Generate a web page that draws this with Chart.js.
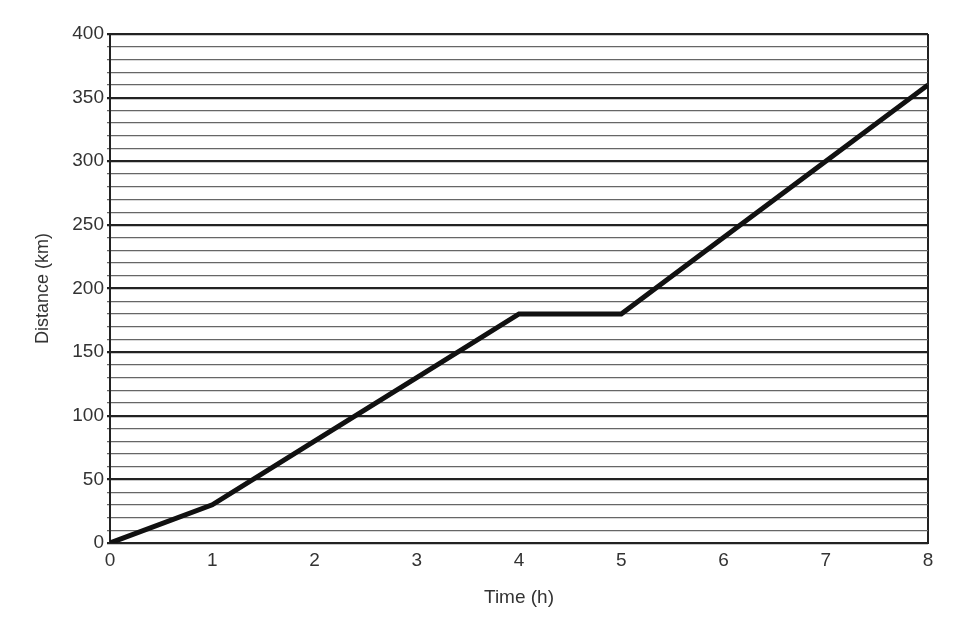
<!DOCTYPE html>
<html>
<head>
<meta charset="utf-8">
<script src="https://cdn.jsdelivr.net/npm/chart.js@4"></script>
<style>
  html, body { margin: 0; padding: 0; background: #fff; }
  #wrap { width: 969px; height: 630px; }
</style>
</head>
<body>
<div id="wrap"><canvas id="distChart" width="969" height="630"></canvas></div>
<script>
// Distance travelled at each hour
const hours = [0, 1, 2, 3, 4, 5, 6, 7, 8];
const distances = [0, 30, 80, 130, 180, 180, 240, 300, 360];
const yMax = 400;
const yStep = 10;
const yLabelStep = 50;

const ctx = document.getElementById('distChart').getContext('2d');

new Chart(ctx, {
  type: 'line',
  data: {
    datasets: [{
      data: hours.map((h, i) => ({ x: h, y: distances[i] })),
      borderColor: '#111',
      borderWidth: 5,
      pointRadius: 0,
      tension: 0,
      fill: false
    }]
  },
  options: {
    responsive: false,
    animation: false,
    layout: { padding: { top: 34, right: 41, left: 0, bottom: 0 } },
    plugins: {
      legend: { display: false },
      tooltip: { enabled: false }
    },
    scales: {
      x: {
        type: 'linear',
        min: 0,
        max: hours[hours.length - 1],
        ticks: {
          stepSize: 1,
          color: '#333',
          font: { family: 'Liberation Sans', size: 19 },
          padding: 6
        },
        grid: {
          drawTicks: false,
          color: (c) => (c.index === 0 || c.index === hours.length - 1) ? '#222' : 'rgba(0,0,0,0)',
          lineWidth: 2
        },
        border: { display: true, color: '#222', width: 2 },
        title: {
          display: true,
          text: 'Time (h)',
          color: '#333',
          font: { family: 'Liberation Sans', size: 19 },
          padding: { top: 0, bottom: 21 }
        },
        afterFit: (scale) => { scale.height = 87; }
      },
      y: {
        min: 0,
        max: yMax,
        ticks: {
          stepSize: yStep,
          autoSkip: false,
          color: '#333',
          font: { family: 'Liberation Sans', size: 19 },
          padding: 3,
          callback: (v) => (v % yLabelStep === 0 ? v : '')
        },
        grid: {
          tickLength: 3,
          color: (c) => (c.tick && c.tick.value % yLabelStep === 0) ? '#222' : '#666',
          lineWidth: (c) => (c.tick && c.tick.value % yLabelStep === 0) ? 2.2 : 1.2
        },
        border: { display: true, color: '#222', width: 2 },
        title: {
          display: true,
          text: 'Distance (km)',
          color: '#333',
          font: { family: 'Liberation Sans', size: 18 },
          padding: { top: 32, bottom: 0 }
        },
        afterFit: (scale) => { scale.width = 110; }
      }
    }
  }
});
</script>
</body>
</html>
